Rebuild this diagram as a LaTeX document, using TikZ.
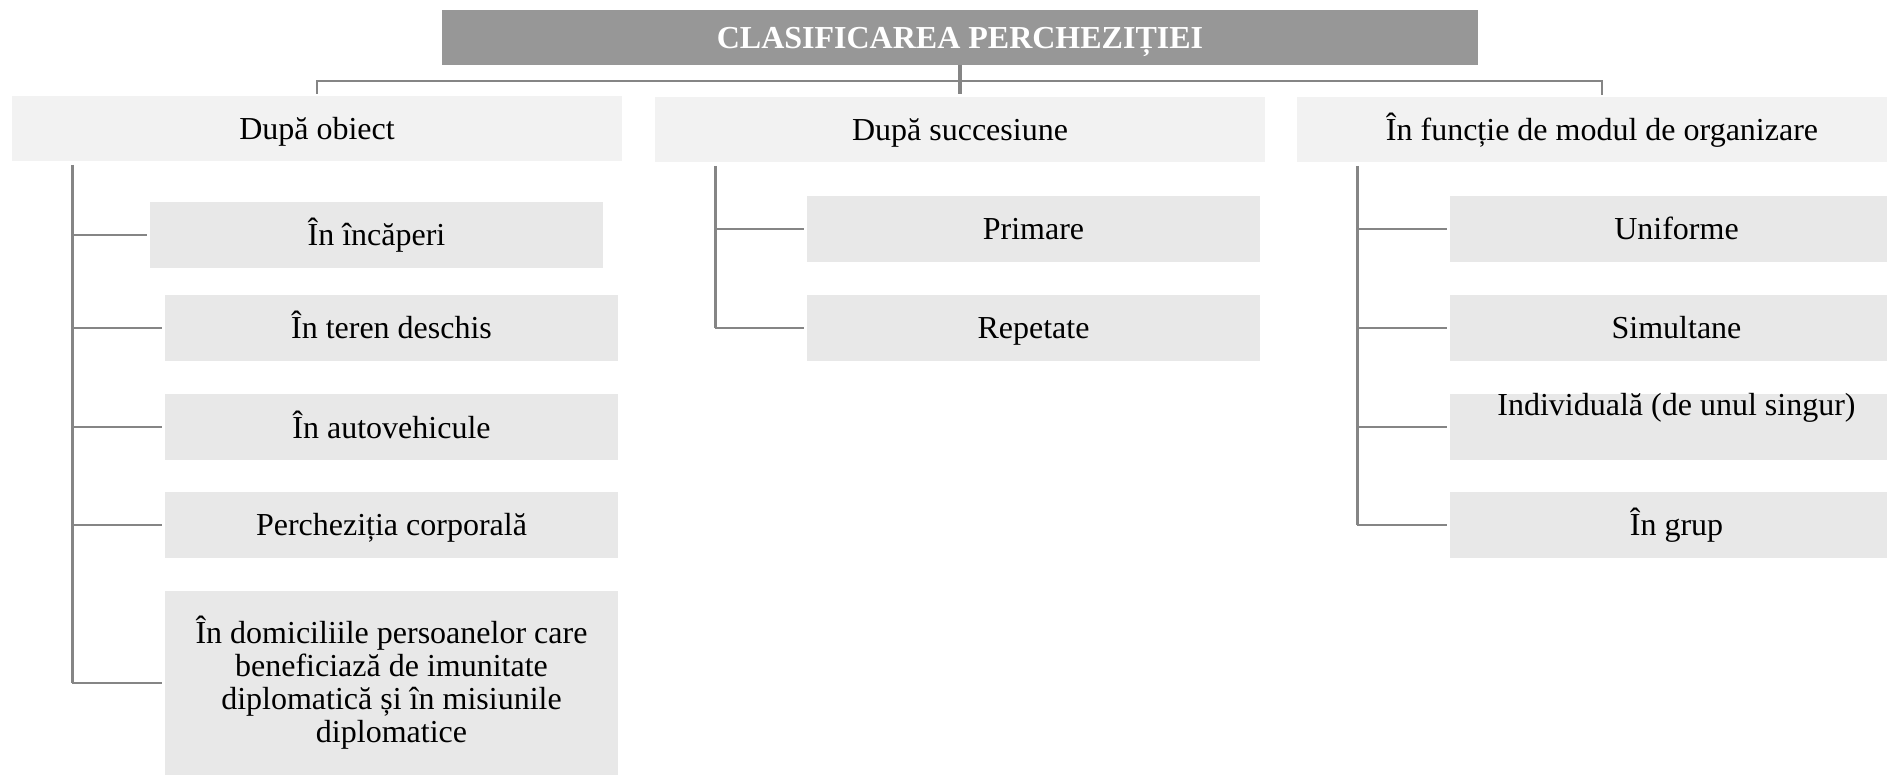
\documentclass[tikz,border=0pt]{standalone}
\usepackage{fontspec}
\setmainfont{Liberation Serif}
\definecolor{titlegray}{HTML}{979797}
\definecolor{lvlone}{HTML}{F2F2F2}
\definecolor{lvltwo}{HTML}{E8E8E8}
\definecolor{linegray}{HTML}{858585}
\begin{document}
\begin{tikzpicture}[x=0.5pt,y=-0.5pt,
  every node/.style={inner sep=0pt,outer sep=0pt,font=\fontsize{16pt}{16.5pt}\selectfont},
  fixline/.style={text height=13.4pt,text depth=2.4pt},
  titlebox/.style={fixline,fill=titlegray,text=white,font=\fontsize{16pt}{16.5pt}\selectfont\bfseries,minimum width=518pt,minimum height=27.5pt,anchor=north west},
  onebox/.style={fixline,fill=lvlone,minimum width=305pt,minimum height=32.5pt,anchor=north west},
  twobox/.style={fill=lvltwo,minimum width=226.5pt,minimum height=33pt,anchor=north west,align=center},
  conn/.style={draw=linegray,line width=1.35pt},
  trunk/.style={draw=linegray,line width=1.5pt},
  stem/.style={draw=linegray,line width=2pt}]
\useasboundingbox (0,0) rectangle (1887,775);
\clip (0,0) rectangle (1887,775);
\fill[white] (0,0) rectangle (1887,775);
% title
\node[titlebox] (title) at (442,10) {CLASIFICAREA PERCHEZIȚIEI};
% level 1
\node[onebox] (obj) at (12,96) {După obiect};
\node[onebox] (suc) at (655,97) {După succesiune};
\node[onebox] (org) at (1297,97) {În funcție de modul de organizare};
% connectors from title
\coordinate (hub) at (title.south |- 0,81);
\coordinate (stemend) at (title.south |- 0,94);
\draw[conn] (obj.north) ++(0,-2) |- (hub);
\draw[conn] (org.north) ++(0,-2) |- (hub);
\draw[stem] (title.south) -- (stemend);
% level 2 left
\node[twobox,fixline] (a1) at (150,202) {În încăperi};
\node[twobox,fixline] (a2) at (165,295) {În teren deschis};
\node[twobox,fixline] (a3) at (165,394) {În autovehicule};
\node[twobox,fixline] (a4) at (165,492) {Percheziția corporală};
\node[twobox,minimum height=92pt] (a5) at (165,591) {În domiciliile persoanelor care\\beneficiază de imunitate\\diplomatică și în misiunile\\diplomatice};
% level 2 middle
\node[twobox,fixline] (b1) at (807,196) {Primare};
\node[twobox,fixline] (b2) at (807,295) {Repetate};
% level 2 right
\node[twobox,fixline] (c1) at (1450,196) {Uniforme};
\node[twobox,fixline] (c2) at (1450,295) {Simultane};
\node[twobox] (c3) at (1450,394) {};
\node[anchor=base] (c3t) at ([yshift=-10.6pt]c3.north) {Individuală (de unul singur)};
\node[twobox,fixline] (c4) at (1450,492) {În grup};
% trunks
\coordinate (ta) at (72,165);
\coordinate (tb) at (715,166);
\coordinate (tc) at (1357,166);
\draw[trunk] (ta) -- (ta |- a5.west);
\draw[trunk] (tb) -- (tb |- b2.west);
\draw[trunk] (tc) -- (tc |- c4.west);
\foreach \n in {a1,a2,a3,a4,a5} \draw[conn] (ta |- \n.west) -- ([xshift=-1.5pt]\n.west);
\foreach \n in {b1,b2} \draw[conn] (tb |- \n.west) -- ([xshift=-1.5pt]\n.west);
\foreach \n in {c1,c2,c3,c4} \draw[conn] (tc |- \n.west) -- ([xshift=-1.5pt]\n.west);
\end{tikzpicture}
\end{document}
